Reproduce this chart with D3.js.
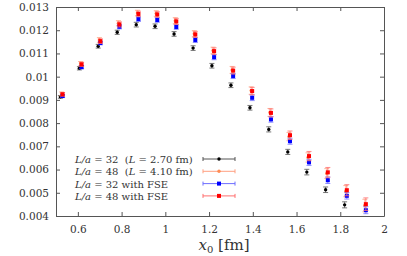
<!DOCTYPE html>
<html>
<head>
<meta charset="utf-8">
<script src="https://cdn.jsdelivr.net/npm/d3@7"></script>
<style>
  body { margin: 0; background: #fff; }
</style>
</head>
<body>
<div id="chart"></div>
<script>
// Data
const x0 = [0.52, 0.607, 0.693, 0.78, 0.867, 0.953, 1.04, 1.127, 1.213, 1.30, 1.387, 1.473, 1.56, 1.647, 1.733, 1.82, 1.907];

const l32 = [0.00913, 0.01036, 0.01131, 0.01191, 0.01224, 0.01217, 0.01184, 0.01123, 0.01047, 0.00963, 0.00866, 0.00773, 0.00676, 0.00589, 0.00513, 0.00448, 0.0039];
const l32Err = [0.00006, 0.00007, 0.00008, 0.00009, 0.0001, 0.0001, 0.0001, 0.0001, 0.0001, 0.0001, 0.0001, 0.00011, 0.00011, 0.00012, 0.00012, 0.00013, 0.00008];

const l48 = [0.00926, 0.01056, 0.01158, 0.0123, 0.01274, 0.01272, 0.01241, 0.01185, 0.01113, 0.01029, 0.0094, 0.00846, 0.00742, 0.00652, 0.00583, 0.00507, 0.00445];
const l48Err = [0.00008, 0.00009, 0.0001, 0.00011, 0.00012, 0.00012, 0.00013, 0.00013, 0.00014, 0.00015, 0.00016, 0.00017, 0.00018, 0.0002, 0.00021, 0.00024, 0.00027];

const l32Fse = [0.009164, 0.01041, 0.01145, 0.01215, 0.01248, 0.01244, 0.01214, 0.01158, 0.01084, 0.01003, 0.00909, 0.00816, 0.00722, 0.00631, 0.00554, 0.00487, 0.00425];
const l32FseErr = [0.00006, 0.00007, 0.00008, 0.00009, 0.0001, 0.0001, 0.0001, 0.00011, 0.00011, 0.00011, 0.00012, 0.00012, 0.00013, 0.00013, 0.00014, 0.00014, 0.00015];

const l48Fse = [0.00924, 0.01053, 0.01153, 0.01225, 0.0127, 0.01268, 0.01238, 0.01182, 0.0111, 0.01026, 0.00938, 0.00844, 0.00748, 0.00658, 0.00588, 0.00511, 0.00451];
const l48FseErr = [0.00008, 0.00009, 0.0001, 0.00011, 0.00012, 0.00012, 0.00013, 0.00013, 0.00014, 0.00015, 0.00016, 0.00017, 0.00018, 0.0002, 0.00021, 0.00024, 0.00027];

const xTicks = [0.6, 0.8, 1, 1.2, 1.4, 1.6, 1.8, 2];
const yTicks = [0.004, 0.005, 0.006, 0.007, 0.008, 0.009, 0.01, 0.011, 0.012, 0.013];

const series = [
  { size: "32", extra: "L = 2.70 fm", y: l32, err: l32Err, color: "#000", bar: "#555", shape: "circle", dx: 0 },
  { size: "48", extra: "L = 4.10 fm", y: l48, err: l48Err, color: "#ff8c55", bar: "#ff9f80", shape: "circle", dx: 1.2 },
  { size: "32", extra: null, y: l32Fse, err: l32FseErr, color: "#0000ff", bar: "#6f6fff", shape: "square", dx: 2.2 },
  { size: "48", extra: null, y: l48Fse, err: l48FseErr, color: "#ff0000", bar: "#ff6f6f", shape: "square", dx: 2.2 }
];

const margin = { top: 7, right: 23, bottom: 40, left: 56 };
const width = 407 - margin.left - margin.right;
const height = 256 - margin.top - margin.bottom;
const serif = "DejaVu Serif";

const svg = d3.select("#chart")
  .append("svg")
  .attr("width", 407)
  .attr("height", 256)
  .append("g")
  .attr("transform", `translate(${margin.left},${margin.top})`);

const x = d3.scaleLinear().domain([0.5, 2]).range([0, width]);
const y = d3.scaleLinear().domain([0.004, 0.013]).range([height, 0]);

svg.append("clipPath").attr("id", "clip")
  .append("rect").attr("width", width).attr("height", height);

// Axes with inward ticks on all four sides
const fmt = d => String(+d.toFixed(3));
const axes = [
  svg.append("g").attr("transform", `translate(0,${height})`)
    .call(d3.axisBottom(x).tickValues(xTicks).tickSizeInner(-4).tickSizeOuter(0).tickPadding(10).tickFormat(fmt)),
  svg.append("g")
    .call(d3.axisTop(x).tickValues(xTicks).tickSizeInner(-4).tickSizeOuter(0).tickFormat("")),
  svg.append("g")
    .call(d3.axisLeft(y).tickValues(yTicks).tickSizeInner(-4).tickSizeOuter(0).tickPadding(7).tickFormat(fmt)),
  svg.append("g").attr("transform", `translate(${width},0)`)
    .call(d3.axisRight(y).tickValues(yTicks).tickSizeInner(-4).tickSizeOuter(0).tickFormat(""))
];
axes.forEach(a => a.attr("font-family", serif).attr("font-size", 10.5));

svg.selectAll(".domain").attr("stroke", "#555");
svg.selectAll(".tick line").attr("stroke", "#555");
svg.selectAll(".tick text").attr("fill", "#333");

// Error bars and markers
const plot = svg.append("g").attr("clip-path", "url(#clip)");
const cap = 2.5;

series.forEach(s => {
  const pts = x0.map((v, i) => ({ x: v, y: s.y[i], e: s.err[i] }));
  const g = plot.append("g");
  const eb = g.selectAll(".eb").data(pts).enter().append("g")
    .attr("stroke", s.bar).attr("stroke-width", 1).attr("stroke-opacity", 0.8);
  eb.append("line")
    .attr("x1", d => x(d.x) + s.dx).attr("x2", d => x(d.x) + s.dx)
    .attr("y1", d => y(d.y - d.e)).attr("y2", d => y(d.y + d.e));
  eb.append("line")
    .attr("x1", d => x(d.x) + s.dx - cap).attr("x2", d => x(d.x) + s.dx + cap)
    .attr("y1", d => y(d.y - d.e)).attr("y2", d => y(d.y - d.e));
  eb.append("line")
    .attr("x1", d => x(d.x) + s.dx - cap).attr("x2", d => x(d.x) + s.dx + cap)
    .attr("y1", d => y(d.y + d.e)).attr("y2", d => y(d.y + d.e));

  if (s.shape === "square") {
    g.selectAll(".m").data(pts).enter().append("rect")
      .attr("x", d => x(d.x) + s.dx - 2).attr("y", d => y(d.y) - 2)
      .attr("width", 4).attr("height", 4).attr("fill", s.color);
  } else {
    g.selectAll(".m").data(pts).enter().append("circle")
      .attr("cx", d => x(d.x) + s.dx).attr("cy", d => y(d.y))
      .attr("r", 1.7).attr("fill", s.color);
  }
});

// Legend
const legend = svg.append("g").attr("transform", `translate(19, 152)`)
  .attr("font-family", serif).attr("font-size", 10).attr("fill", "#333");
series.forEach((s, i) => {
  const row = legend.append("g").attr("transform", `translate(0, ${i * 12.3})`);
  const t = row.append("text").attr("y", 4);
  t.append("tspan").style("font-style", "italic").text("L/a");
  t.append("tspan").text(" = " + s.size + (s.extra ? "\u00a0\u00a0(" : " with FSE"));
  if (s.extra) {
    t.append("tspan").style("font-style", "italic").text("L");
    t.append("tspan").text(s.extra.slice(1) + ")");
  }
  const lx = 128, rx = 160;
  row.append("line").attr("x1", lx).attr("x2", rx).attr("y1", 0).attr("y2", 0)
    .attr("stroke", s.bar).attr("stroke-width", 1);
  [lx, rx].forEach(cx => row.append("line").attr("x1", cx).attr("x2", cx)
    .attr("y1", -2).attr("y2", 2).attr("stroke", s.bar));
  if (s.shape === "square") {
    row.append("rect").attr("x", (lx + rx) / 2 - 2).attr("y", -2).attr("width", 4).attr("height", 4).attr("fill", s.color);
  } else {
    row.append("circle").attr("cx", (lx + rx) / 2).attr("cy", 0).attr("r", 1.7).attr("fill", s.color);
  }
});

// Axis title
const title = svg.append("text")
  .attr("x", width / 2 + 4).attr("y", height + 34)
  .attr("text-anchor", "middle").attr("font-family", serif).attr("font-size", 15).attr("fill", "#333");
title.append("tspan").style("font-style", "italic").text("x");
title.append("tspan").attr("dy", 3).attr("font-size", 10).text("0");
title.append("tspan").attr("dy", -3).text(" [fm]");
</script>
</body>
</html>
